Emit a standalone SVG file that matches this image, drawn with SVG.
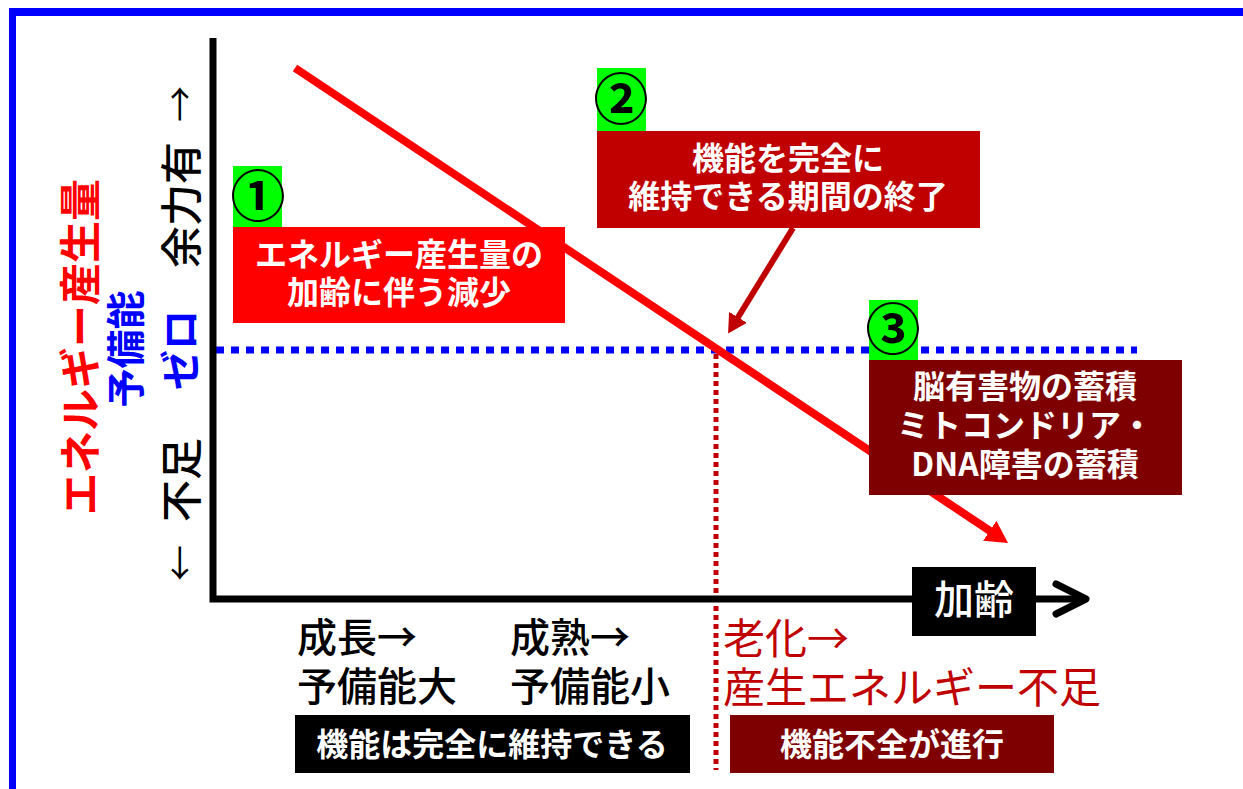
<svg xmlns="http://www.w3.org/2000/svg" width="1243" height="789" viewBox="0 0 1243 789">
<style>
text{font-family:"Noto Sans CJK JP","Noto Sans",sans-serif;}
.w32{font-size:32px;fill:#fff;font-weight:bold;text-anchor:middle;}
.num{font-size:55px;fill:#000;text-anchor:middle;font-weight:bold;}
.lbl{font-size:40px;fill:#000;font-weight:500;}
.red{font-size:42px;fill:#c00000;}
.vt{text-anchor:middle;dominant-baseline:central;}
.green{fill:#00ff00;}
</style>
<defs>
<marker id="hRed" markerUnits="userSpaceOnUse" markerWidth="22" markerHeight="24" refX="2" refY="12" orient="auto"><path d="M0,0 L22,12 L0,24 z" fill="#ff0000"/></marker>
<marker id="hDark" markerUnits="userSpaceOnUse" markerWidth="19" markerHeight="21" refX="2" refY="10.5" orient="auto"><path d="M0,0 L19,10.5 L0,21 z" fill="#c00000"/></marker>
</defs>
<rect width="1243" height="789" fill="#fff"/>
<g id="frame">
<rect x="9" y="8" width="1234" height="8" fill="#0000ff"/>
<rect x="9" y="8" width="7" height="781" fill="#0000ff"/>
</g>
<g id="connectors">
<line x1="216" y1="350" x2="1137" y2="350" stroke="#0000ff" stroke-width="7" stroke-dasharray="8 7"/>
<line x1="716" y1="354" x2="716" y2="770" stroke="#c00000" stroke-width="5" stroke-dasharray="5 4"/>
<path d="M213,38 V599 H1084" fill="none" stroke="#000" stroke-width="7"/>
<path d="M1056,584 L1086,599 L1056,614" fill="none" stroke="#000" stroke-width="7" stroke-linecap="round" stroke-linejoin="round"/>
<line x1="295" y1="68" x2="991.4" y2="531.9" stroke="#ff0000" stroke-width="8" marker-end="url(#hRed)"/>
<line x1="793" y1="228" x2="737" y2="319" stroke="#c00000" stroke-width="6" marker-end="url(#hDark)"/>
</g>
<g id="yaxis-labels">
<text class="vt" transform="translate(77,347) rotate(-90)" style="font-size:42px;fill:#ff0000;font-weight:bold">エネルギー産生量</text>
<text class="vt" transform="translate(123,349) rotate(-90)" style="font-size:39px;fill:#0000ff;font-weight:bold">予備能</text>
<text class="vt" transform="translate(178,350) rotate(-90)" style="font-size:40px;fill:#0000ff;font-weight:bold">ゼロ</text>
<text class="vt" transform="translate(178,480) rotate(-90)" style="font-size:42px;fill:#000;font-weight:500">不足</text>
<text class="vt" transform="translate(178,563) rotate(-90)" style="font-size:36px;fill:#000">←</text>
<text class="vt" transform="translate(178,205) rotate(-90)" style="font-size:42px;fill:#000;font-weight:500">余力有</text>
<text class="vt" transform="translate(178,104) rotate(-90)" style="font-size:36px;fill:#000">→</text>
</g>
<g id="node1">
<rect class="green" x="233" y="166" width="49" height="61"/>
<text class="num" x="258" y="216">①</text>
<rect x="233" y="227" width="332" height="96" fill="#ff0000"/>
<text class="w32" x="399" y="266">エネルギー産生量の</text>
<text class="w32" x="399" y="304">加齢に伴う減少</text>
</g>
<g id="node2">
<rect class="green" x="597" y="68" width="49" height="63"/>
<text class="num" x="621" y="119">②</text>
<rect x="597" y="131" width="383" height="97" fill="#c00000"/>
<text class="w32" x="788" y="170">機能を完全に</text>
<text class="w32" x="788" y="208">維持できる期間の終了</text>
</g>
<g id="node3">
<rect class="green" x="869" y="300" width="49" height="60"/>
<text class="num" x="893" y="349">③</text>
<rect x="869" y="360" width="313" height="135" fill="#7f0000"/>
<text class="w32" x="1025" y="398">脳有害物の蓄積</text>
<text class="w32" x="1025" y="437">ミトコンドリア・</text>
<text class="w32" x="1025" y="476">DNA障害の蓄積</text>
</g>
<g id="age-label">
<rect x="912" y="567" width="124" height="69" fill="#000"/>
<text x="974" y="614" style="font-size:40px;fill:#fff;text-anchor:middle;font-weight:500">加齢</text>
</g>
<g id="stage-growth">
<text class="lbl" x="297" y="652">成長→</text>
<text class="lbl" x="297" y="701">予備能大</text>
</g>
<g id="stage-mature">
<text class="lbl" x="510" y="652">成熟→</text>
<text class="lbl" x="510" y="701">予備能小</text>
</g>
<g id="stage-aging">
<text class="red" x="723" y="654">老化→</text>
<text class="red" x="723" y="703">産生エネルギー不足</text>
</g>
<g id="node-full">
<rect x="295" y="715" width="395" height="58" fill="#000"/>
<text class="w32" x="492" y="756">機能は完全に維持できる</text>
</g>
<g id="node-decline">
<rect x="730" y="715" width="324" height="58" fill="#7f0000"/>
<text class="w32" x="892" y="756">機能不全が進行</text>
</g>
</svg>
